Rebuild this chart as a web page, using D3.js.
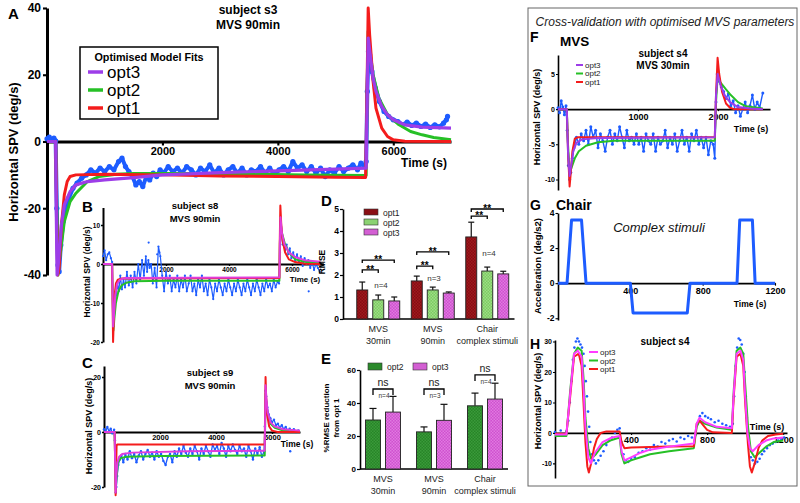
<!DOCTYPE html>
<html><head><meta charset="utf-8">
<script src="https://cdn.jsdelivr.net/npm/d3@7"></script>
<style>body{margin:0;background:#fff}svg{display:block}</style>
</head><body>
<svg id="chart" width="800" height="503"></svg>
<script>
// ---------------- DATA ----------------
const aXTicks=[2000,4000,6000], aYTicks=[-40,-20,0,20,40];
const bXTicks=[2000,4000,6000], bYTicks=[-20,-10,0,10];
const cXTicks=[2000,4000,6000], cYTicks=[-20,0,20];
const dYTicks=[0,1,2,3,4,5], eYTicks=[0,20,40,60];
const fXTicks=[1000,2000], fYTicks=[-10,-5,0,5];
const gXTicks=[400,800,1200], gYTicks=[-2,0,2,4];
const hXTicks=[400,800,1200], hYTicks=[-10,0,10,20,30];
const fitNames=['opt3','opt2','opt1'];

// Panel A (subject s3, MVS 90min)
const aBlue=[[0,0.8],[40,1.3],[80,0.4],[120,1.0],[150,0.2],[170,-20],[190,-37],[210,-39],[240,-31],[280,-24],[330,-20],[380,-17],[450,-14],[520,-12.5],[600,-11],[680,-10],[760,-8.5],[840,-9.5],[920,-8],[1000,-9],[1080,-7.5],[1160,-8.5],[1240,-6],[1300,-5],[1360,-7.5],[1420,-9],[1480,-10.5],[1540,-13],[1600,-12],[1660,-13.5],[1720,-10.5],[1780,-11.5],[1840,-9.5],[1900,-10.5],[1960,-8.5],[2020,-9.5],[2100,-7.5],[2180,-9],[2260,-8],[2340,-9.5],[2420,-7.5],[2500,-8.5],[2580,-10],[2660,-8],[2740,-9],[2820,-7],[2900,-9.5],[2980,-8],[3060,-10],[3140,-8.5],[3220,-7.5],[3300,-9.5],[3380,-8],[3460,-10],[3540,-8.5],[3620,-9],[3700,-7.5],[3780,-9.5],[3860,-8],[3940,-10],[4020,-8.5],[4100,-7.5],[4180,-9],[4260,-6],[4340,-8],[4420,-7],[4500,-9],[4580,-7.5],[4660,-9.5],[4740,-8],[4820,-10.5],[4900,-8.5],[4980,-9.5],[5060,-7.5],[5140,-9],[5220,-8],[5300,-7],[5380,-8.5],[5440,-6.5],[5500,-7.5],[5530,-6],[5550,15],[5570,27],[5590,26],[5630,21],[5690,16],[5760,12],[5840,9],[5920,7.5],[6000,6.5],[6080,6],[6160,5],[6240,5.8],[6320,4.8],[6400,5.5],[6480,4.5],[6560,5.2],[6640,4.2],[6720,5],[6800,4.4],[6870,5.5],[6920,6.5],[6940,7.5]];
const aRed=[[0,0],[150,0],[165,-20],[185,-40],[210,-38],[250,-25],[300,-16],[350,-12],[400,-10.5],[500,-10],[1000,-9.8],[2000,-10],[3000,-10.3],[4000,-10.5],[5000,-10.7],[5520,-10.8],[5540,10],[5565,40],[5590,32],[5650,18],[5700,10],[5800,4],[5900,1.5],[6000,0.5],[6200,0.1],[7000,0]];
const aGreen=[[0,0],[150,0],[170,-20],[190,-40],[220,-35],[300,-24],[400,-18],[500,-15.5],[700,-12],[900,-10.5],[1200,-9.8],[1500,-9.6],[2500,-9.6],[3500,-9.8],[4500,-10],[5530,-10.2],[5545,10],[5565,33],[5590,28],[5650,20],[5750,13],[5900,8],[6100,5],[6300,3],[6500,2],[6700,1.2],[7000,0.5]];
const aPurple=[[0,0],[150,0],[160,-20],[175,-40],[200,-36],[250,-25],[300,-19],[400,-15],[500,-13],[700,-12],[1000,-11.5],[1500,-10.8],[2000,-10],[3000,-9.3],[4000,-8.8],[5000,-8.3],[5530,-8],[5545,10],[5565,31],[5600,26],[5650,19],[5700,15],[5800,10.5],[5900,8],[6000,6.5],[6200,5],[6500,4.3],[7000,4]];

// Panel B (subject s8, MVS 90min)
const bBlue=[[0,2],[50,3.5],[100,1],[150,2.5],[200,3],[250,1.5],[290,0.5],[310,-9],[330,-16],[350,-15],[380,-11],[420,-8],[460,-5],[500,-7],[550,-3],[600,-6.5],[650,-4],[700,-6],[760,-2],[820,-5.5],[880,-3],[940,-6],[1000,-2],[1060,-5],[1120,0],[1180,-4],[1240,1],[1300,-3],[1360,2],[1400,-2],[1440,1],[1480,-1],[1530,0],[1580,-5],[1640,-1],[1700,-6],[1760,4.5],[1820,2],[1880,-3],[1940,-7],[2000,-2],[2060,-5],[2120,-3],[2180,-7],[2240,-4],[2300,-6],[2360,-3],[2420,-7],[2480,-4],[2540,-6],[2600,-3],[2660,-7],[2720,-5],[2780,-3],[2840,-7],[2900,-5],[2960,-8],[3020,-4],[3080,-6],[3140,-3],[3200,-7],[3260,-5],[3320,-8],[3380,-4],[3440,-6],[3500,-9],[3560,-5],[3620,-7],[3680,-4],[3740,-6],[3800,-8],[3860,-5],[3920,-7],[3980,-4],[4040,-6],[4100,-8],[4160,-5],[4220,-7],[4280,-4],[4340,-6],[4400,-8],[4460,-5],[4520,-7],[4580,-4],[4640,-6],[4700,-8],[4760,-5],[4820,-7],[4880,-4],[4940,-6],[5000,-8],[5060,-5],[5120,-7],[5180,-4],[5240,-6],[5300,-5],[5360,-7],[5420,-4],[5480,-6],[5540,-4.5],[5590,-5],[5620,3],[5640,9],[5670,8],[5700,5],[5740,6],[5780,3.5],[5830,5],[5880,2.5],[5930,4],[5980,1.5],[6040,3],[6100,1],[6160,2.5],[6220,0.5],[6280,2],[6340,-0.5],[6400,1.5],[6460,0],[6520,1],[6580,-1],[6640,0.5],[6700,-1.5],[6760,0],[6820,-1],[6880,-2]];
const bOutliers=[[6530,-7],[1450,5.5],[1790,3],[1720,2.5]];
const bRed=[[0,0],[290,0],[305,-10],[320,-20],[340,-15],[370,-8],[410,-5],[470,-4],[600,-3.7],[5600,-3.6],[5610,5],[5630,15],[5660,10],[5700,6],[5780,3],[5900,1.2],[6100,0.5],[6400,0.1],[6900,0]];
const bGreen=[[0,0],[290,0],[310,-10],[330,-17],[360,-14],[410,-10],[490,-7],[590,-5.5],[740,-4.8],[990,-4.4],[2000,-4.3],[5600,-4.3],[5615,5],[5635,11],[5680,8],[5780,5],[5900,3],[6100,1.2],[6400,0.6],[6900,0.3]];
const bPurple=[[0,0],[290,0],[305,-8],[320,-16],[350,-13],[390,-8],[450,-5],[540,-4],[690,-3.6],[5600,-3.4],[5615,5],[5635,12],[5680,8],[5760,5],[5900,3],[6100,1.8],[6400,1],[6900,0.6]];

// Panel C (subject s9, MVS 90min)
const cBlue=[[0,1],[60,0.3],[120,1.8],[180,0.2],[240,1.2],[300,-0.5],[360,0.8],[390,-3],[405,-14],[420,-22],[440,-20],[470,-16],[510,-12],[560,-10],[620,-8.5],[690,-11],[760,-8],[840,-10],[920,-7],[1000,-9.5],[1080,-8],[1160,-11],[1240,-8.5],[1320,-7],[1400,-10],[1480,-8],[1560,-6.5],[1640,-9],[1720,-7.5],[1800,-10],[1880,-7],[1960,-9],[2040,-8],[2120,-10.5],[2200,-12],[2280,-9],[2360,-8],[2440,-11],[2520,-7],[2600,-9],[2680,-6],[2760,-8],[2840,-5],[2920,-7.5],[3000,-9],[3080,-6],[3160,-8],[3240,-5],[3320,-7],[3400,-10],[3480,-6],[3560,-8],[3640,-5],[3720,-7],[3800,-9],[3880,-4.5],[3960,-6.5],[4040,-5],[4120,-8],[4200,-4],[4280,-6],[4360,-9],[4440,-5],[4520,-7],[4600,-4.5],[4680,-6.5],[4760,-8],[4840,-5],[4920,-7],[5000,-6],[5080,-9],[5160,-5],[5240,-7],[5320,-10],[5400,-6],[5480,-8],[5560,-5.5],[5640,-9],[5720,-7],[5745,2],[5765,15],[5790,13],[5830,9],[5880,6.5],[5940,5],[6000,3.5],[6070,4.5],[6140,2.5],[6210,3],[6280,1.5],[6350,2.5],[6420,1],[6490,1.8],[6560,0.5],[6630,1.2],[6700,0.3],[6780,1],[6860,0],[6940,0.6]];
const cOutliers=[[6650,-7]];
const cRed=[[0,0],[380,0],[400,-12],[415,-23],[430,-14],[450,-5],[470,-4.5],[5740,-4.5],[5755,8],[5770,20],[5790,13],[5830,6],[5900,2],[6000,0.5],[6200,0],[7000,0]];
const cGreen=[[0,0],[380,0],[400,-12],[418,-21],[445,-17],[500,-11],[600,-9.5],[800,-9],[2000,-8.7],[5740,-8.5],[5755,2],[5770,14],[5800,10],[5850,6],[5950,3],[6100,1.5],[6400,0.5],[7000,0]];
const cPurple=[[0,0],[380,0],[400,-12],[415,-22],[440,-16],[480,-11],[540,-9],[650,-8],[1000,-7.5],[3000,-7],[5740,-6.8],[5755,5],[5770,17],[5800,12],[5850,7],[5950,3.5],[6100,2],[6400,1],[7000,0.5]];

// Panel D (RMSE)
const dGroups=['MVS|30min','MVS|90min','Chair|complex stimuli'];
const dSeries=['opt1','opt2','opt3'];
const dOpt1=[1.32,1.73,3.73], dOpt1Err=[1.68,1.95,4.4];
const dOpt2=[0.87,1.32,2.18], dOpt2Err=[1.09,1.45,2.36];
const dOpt3=[0.82,1.18,2.05], dOpt3Err=[1.0,1.23,2.17];
const dSigInner=[2.23,2.4,4.68], dSigOuter=[2.68,3.05,5.0];
const dN=['n=4','n=3','n=4'];
const dNy=[1.4,1.75,2.85];

// Panel E (% RMSE reduction)
const eSeries=['opt2','opt3'];
const eOpt2=[29.7,22.5,38.3], eOpt2Err=[36.7,25.5,46];
const eOpt3=[34.5,29.5,42.4], eOpt3Err=[44,39.2,52];
const eSig=[48.5,48.5,57];
const eN=['n=4','n=3','n=4'];

// Panel F (subject s4, MVS 30min)
const fBlue=[[0,0.2],[20,-0.5],[40,1.2],[60,0.3],[80,-0.8],[100,0.5],[115,-3],[130,-8],[145,-10],[160,-9],[180,-7],[200,-5.5],[230,-4],[260,-5],[290,-3.5],[320,-4.5],[350,-3],[380,-5],[410,-2.5],[440,-4],[470,-3],[500,-5.5],[530,-3.5],[560,-4.5],[590,-6],[620,-4],[650,-3],[680,-5],[710,-3.5],[740,-4.5],[770,-2.5],[800,-4],[830,-5.5],[860,-3],[890,-4.5],[920,-4],[950,-5],[980,-3.5],[1010,-5],[1040,-4],[1070,-6],[1100,-3.5],[1130,-4.5],[1160,-5],[1190,-3.5],[1220,-6],[1250,-4],[1280,-5],[1310,-4.5],[1340,-3],[1370,-5.5],[1400,-4],[1430,-5],[1460,-3.5],[1490,-6],[1520,-4.5],[1550,-3],[1580,-5],[1610,-4],[1640,-6],[1670,-3.5],[1700,-4.5],[1730,-3],[1760,-5],[1790,-4],[1820,-5.5],[1850,-4],[1880,-6.5],[1910,-4.5],[1940,-5],[1960,-7],[1975,1],[1990,5],[2010,4],[2040,3.2],[2070,2.5],[2100,1.5],[2130,2.2],[2160,0.5],[2190,1.2],[2220,-0.5],[2250,0.5],[2280,-1],[2310,0],[2340,1],[2370,-0.5],[2400,0.5],[2430,2],[2460,0],[2490,1],[2520,0.2],[2560,2.3]];
const fRed=[[0,0],[110,0],[125,-6],[145,-11],[160,-9],[180,-6],[210,-4.2],[250,-4],[1960,-4],[1975,2],[1995,7.3],[2015,5],[2050,2.5],[2100,0.8],[2150,0.2],[2200,0],[2560,0]];
const fGreen=[[0,0],[110,0],[125,-5],[145,-9],[170,-8.3],[210,-7],[260,-6],[350,-5.2],[500,-4.7],[700,-4.5],[1000,-4.5],[1960,-4.5],[1975,1],[1995,4.5],[2030,3.8],[2100,2.8],[2160,2],[2250,1],[2350,0.4],[2560,0.1]];
const fPurple=[[0,0],[110,0],[125,-6],[145,-9.5],[165,-8],[190,-6],[230,-4.8],[300,-4.3],[500,-4.1],[1960,-4],[1975,2],[1995,5],[2030,3.5],[2080,2],[2150,1],[2250,0.3],[2400,0.1],[2560,0]];

// Panel G (chair acceleration, complex stimuli)
const gStim=[[0,0],[50,0],[75,3.6],[130,3.6],[155,0],[400,0],[415,-1.7],[715,-1.7],[730,0],[990,0],[1005,3.6],[1075,3.6],[1090,0],[1200,0]];

// Panel H (subject s4, chair response)
const hBlue=[[0,0.3],[15,-0.5],[30,0.8],[45,-0.3],[60,0.5],[70,4],[78,10],[86,17],[94,24],[102,28],[110,30],[118,31],[126,30],[134,29],[142,28],[150,26],[156,22],[162,17],[168,12],[174,7],[180,2],[186,-3],[194,-7],[205,-9],[215,-10],[228,-9],[240,-7.5],[255,-6],[270,-4],[285,-2.5],[300,-1.5],[315,0],[328,1],[340,1.5],[350,-3],[360,-7],[372,-9],[385,-9.5],[400,-8.5],[420,-8],[440,-6.5],[460,-6],[480,-5],[500,-5.5],[520,-4],[540,-4.5],[560,-3],[580,-3.5],[600,-2.5],[620,-2],[640,-2.8],[660,-1.5],[680,-2],[700,-1],[720,-1.5],[740,-0.5],[750,3],[762,5.5],[775,6.5],[790,5.5],[805,5],[820,4.5],[840,3.5],[860,4],[880,3],[900,2.5],[920,2],[935,3],[942,12],[950,22],[958,28],[966,31],[974,30.5],[982,29],[990,26],[997,20],[1003,12],[1009,5],[1015,-1],[1022,-5],[1030,-8],[1040,-9],[1052,-10],[1064,-9.5],[1076,-8.5],[1088,-7],[1100,-6],[1115,-5],[1130,-4],[1145,-3.5],[1160,-3],[1175,-2.5],[1190,-2],[1205,-1.5]];
const hRed=[[0,-0.3],[60,-0.3],[80,12],[100,25],[125,26],[140,22],[150,10],[160,-3],[170,-11],[178,-13],[190,-10],[205,-5],[220,-2],[240,0],[270,0.5],[340,0.5],[350,-3],[365,-5],[400,-4.8],[500,-4.6],[600,-4.5],[730,-4.4],[745,3],[760,4],[780,2.5],[800,1],[830,0.2],[930,0],[940,12],[955,25],[975,26],[990,22],[1000,10],[1015,-4],[1025,-11],[1035,-13],[1050,-10],[1070,-5],[1090,-2.5],[1120,-1],[1160,-0.5],[1200,-0.3]];
const hGreen=[[0,-1],[60,-1],[80,14],[100,26],[120,28],[140,27],[150,18],[160,5],[175,-5],[190,-8.5],[215,-7],[250,-4],[290,-2.5],[340,-1.5],[350,-7],[365,-10],[400,-9],[450,-8],[500,-7],[600,-6],[730,-5],[745,2],[760,4],[790,3],[850,1.8],[930,1],[940,14],[955,27],[975,28],[990,26],[1000,16],[1015,2],[1030,-6],[1050,-8],[1075,-6.5],[1110,-4.5],[1150,-3],[1200,-2.5]];
const hPurple=[[0,-0.5],[60,-0.5],[80,13],[100,26],[120,27],[140,25],[150,15],[160,2],[175,-8],[188,-10],[210,-6.5],[250,-3],[300,-1.5],[340,-1],[350,-6],[365,-9],[400,-8],[450,-6.5],[500,-5.5],[600,-4.5],[730,-3.5],[745,3],[760,5],[790,3.5],[850,2],[930,1.5],[940,13],[955,26],[975,27],[990,24],[1000,12],[1012,0],[1025,-5],[1040,-6],[1070,-4],[1110,-2.5],[1150,-1.8],[1200,-1.5]];

// ---------------- DRAWING ----------------
const svg=d3.select('#chart');
const FONT='"Liberation Sans", Arial, Helvetica, sans-serif';
const COL={blue:'#1d5cff',red:'#f41c1c',green:'#26c026',purple:'#9d3de8',magenta:'#e03ddc',pink:'#ff3cff'};

function txt(x,y,s,o={}){
  return svg.append('text').attr('x',x).attr('y',y).text(s)
    .attr('font-family',FONT).attr('font-size',o.fs||10)
    .attr('font-weight',o.fw||'normal').attr('font-style',o.fst||'normal')
    .attr('text-anchor',o.anchor||'start').attr('fill',o.fill||'#000')
    .attr('transform',o.rot?`rotate(-90,${x},${y})`:null);
}
function axes(x,y,o){
  const g=svg.append('g');
  const fmt=d=>String(d);
  const xa=d3.axisBottom(x).tickValues(o.xt).tickSize(o.ts).tickSizeOuter(0).tickPadding(o.xp).tickFormat(fmt);
  const ya=d3.axisLeft(y).tickValues(o.yt).tickSize(o.ts).tickSizeOuter(0).tickPadding(o.yp).tickFormat(fmt);
  const xg=g.append('g').attr('transform',`translate(0,${y(0)})`).call(xa);
  const yg=g.append('g').attr('transform',`translate(${x(x.domain()[0])},0)`).call(ya);
  [[xg,o.xfs],[yg,o.yfs]].forEach(([s,fs])=>{
    s.select('.domain').attr('stroke','#000').attr('stroke-width',o.sw);
    s.selectAll('.tick line').attr('stroke','#000').attr('stroke-width',Math.max(1,o.sw*0.7));
    s.selectAll('.tick text').attr('font-size',fs).attr('font-weight','bold').attr('font-family',FONT).attr('fill','#000');
  });
  return g;
}
function series(x,y,data,color,w){
  svg.append('path').datum(data).attr('fill','none').attr('stroke',color).attr('stroke-width',w)
    .attr('stroke-linejoin','round').attr('d',d3.line().x(d=>x(d[0])).y(d=>y(d[1])));
}
function dots(x,y,data,r,lw){
  if(lw>0) series(x,y,data,COL.blue,lw);
  svg.append('g').selectAll('circle').data(data).join('circle')
    .attr('cx',d=>x(d[0])).attr('cy',d=>y(d[1])).attr('r',r).attr('fill',COL.blue);
}

// ---- Panel A ----
const xA=d3.scaleLinear([0,7000],[47,451]);
const yA=d3.scaleLinear([-40,40],[275,8]);
axes(xA,yA,{xt:aXTicks,yt:aYTicks,ts:4,xp:2,yp:2,sw:3,xfs:11,yfs:12});
dots(xA,yA,aBlue,2.6,4);
series(xA,yA,aGreen,COL.green,3);
series(xA,yA,aRed,COL.red,3);
series(xA,yA,aPurple,COL.purple,3.2);
txt(8,19,'A',{fs:15,fw:'bold'});
txt(248,14,'subject s3',{fs:12,fw:'bold',anchor:'middle'});
txt(248,29,'MVS 90min',{fs:12,fw:'bold',anchor:'middle'});
txt(424,167,'Time (s)',{fs:12,fw:'bold',anchor:'middle'});
txt(18,152,'Horizontal SPV (deg/s)',{fs:13,fw:'bold',anchor:'middle',rot:true});
// legend A
svg.append('rect').attr('x',80).attr('y',47).attr('width',138).attr('height',72).attr('fill','#fff').attr('stroke','#000').attr('stroke-width',1.5);
txt(149,61,'Optimised Model Fits',{fs:10.8,fw:'bold',anchor:'middle'});
const aLegCol=[COL.purple,COL.green,COL.red];
fitNames.forEach((n,i)=>{
  const yy=72+i*18;
  svg.append('line').attr('x1',88).attr('x2',103).attr('y1',yy).attr('y2',yy).attr('stroke',aLegCol[i]).attr('stroke-width',3.5);
  txt(107,yy+6,n,{fs:17});
});

// ---- Panel B ----
const xB=d3.scaleLinear([0,7000],[103,323.5]);
const yB=d3.scaleLinear([-20,14.5],[342,207.5]);
axes(xB,yB,{xt:bXTicks,yt:bYTicks,ts:2,xp:1,yp:1,sw:2,xfs:6.5,yfs:6.5});
dots(xB,yB,bBlue,1.1,1.2);
dots(xB,yB,bOutliers,1.1,0);
series(xB,yB,bGreen,COL.green,2);
series(xB,yB,bRed,COL.red,2);
series(xB,yB,bPurple,COL.magenta,2);
txt(82,212,'B',{fs:15,fw:'bold'});
txt(195,209,'subject s8',{fs:9.5,fw:'bold',anchor:'middle'});
txt(195,222,'MVS 90min',{fs:9.5,fw:'bold',anchor:'middle'});
txt(305,282,'Time (s)',{fs:8,fw:'bold',anchor:'middle'});
txt(90,272,'Horizontal SPV (deg/s)',{fs:8.5,fw:'bold',anchor:'middle',rot:true});

// ---- Panel C ----
const xC=d3.scaleLinear([0,7000],[104,300]);
const yC=d3.scaleLinear([-20,24],[487,366]);
axes(xC,yC,{xt:cXTicks,yt:cYTicks,ts:2,xp:1,yp:1,sw:2,xfs:7.5,yfs:7});
dots(xC,yC,cBlue,1.2,1.3);
dots(xC,yC,cOutliers,1.2,0);
series(xC,yC,cGreen,COL.green,2);
series(xC,yC,cRed,COL.red,2);
series(xC,yC,cPurple,COL.magenta,2);
txt(82,368,'C',{fs:15,fw:'bold'});
txt(210,376,'subject s9',{fs:9.5,fw:'bold',anchor:'middle'});
txt(210,389,'MVS 90min',{fs:9.5,fw:'bold',anchor:'middle'});
txt(297,447,'Time (s)',{fs:8.5,fw:'bold',anchor:'middle'});
txt(92,426,'Horizontal SPV (deg/s)',{fs:9,fw:'bold',anchor:'middle',rot:true});

// ---- patterns for bars ----
const defs=svg.append('defs');
function pat(id,base,dot){
  const p=defs.append('pattern').attr('id',id).attr('width',3).attr('height',3).attr('patternUnits','userSpaceOnUse');
  p.append('rect').attr('width',3).attr('height',3).attr('fill',base);
  p.append('rect').attr('width',1.5).attr('height',1.5).attr('fill',dot);
  p.append('rect').attr('x',1.5).attr('y',1.5).attr('width',1.5).attr('height',1.5).attr('fill',dot);
}
pat('p1','#870c12','#9e1a1e');
pat('p2','#7ccc62','#9edc86');
pat('p3','#cf50cf','#e07ae0');
pat('p4','#278527','#3a9a3a');
const dFill={opt1:'url(#p1)',opt2:'url(#p2)',opt3:'url(#p3)'};
const dLegFill={opt1:'#8a0e14',opt2:'#8bd272',opt3:'#d35fd3'};
const eFill={opt2:'url(#p4)',opt3:'url(#p3)'};
const eLegFill={opt2:'#2b8a2b',opt3:'#d35fd3'};

function bracket(x1,x2,y,drop){
  svg.append('path').attr('fill','none').attr('stroke','#000').attr('stroke-width',1.3)
    .attr('d',`M${x1},${y+drop}V${y}H${x2}V${y+drop}`);
}
function groupLabels(xs,groups,y1,y2){
  groups.forEach(g=>{const [a,b]=g.split('|');const cx=xs(g)+xs.bandwidth()/2;
    txt(cx,y1,a,{fs:9,anchor:'middle',fill:'#222'});txt(cx,y2,b,{fs:9,anchor:'middle',fill:'#222'});});
}

// ---- Panel D ----
const yD=d3.scaleLinear([0,5],[319,209]);
const xD=d3.scaleBand(dGroups,[351,514.5]);
const xDi=d3.scaleBand(dSeries,[-24,24]).paddingInner(0.3125).paddingOuter(0.15625);
const dVals={opt1:[dOpt1,dOpt1Err],opt2:[dOpt2,dOpt2Err],opt3:[dOpt3,dOpt3Err]};
{
  const ya=d3.axisLeft(yD).tickValues(dYTicks).tickSize(3).tickSizeOuter(0).tickPadding(1).tickFormat(d=>String(d));
  const g=svg.append('g').attr('transform','translate(343,0)').call(ya);
  g.select('.domain').attr('stroke','#000').attr('stroke-width',1.6);
  g.selectAll('.tick line').attr('stroke','#000').attr('stroke-width',1.2);
  g.selectAll('.tick text').attr('font-size',8.5).attr('font-weight','bold').attr('font-family',FONT);
  svg.append('line').attr('x1',343).attr('x2',xD.range()[1]).attr('y1',yD(0)).attr('y2',yD(0)).attr('stroke','#000').attr('stroke-width',1.6);
  dSeries.forEach(s=>{
    const [m,e]=dVals[s];
    dGroups.forEach((gname,i)=>{
      const cx=xD(gname)+xD.bandwidth()/2+xDi(s)+xDi.bandwidth()/2;
      svg.append('line').attr('x1',cx).attr('x2',cx).attr('y1',yD(m[i])).attr('y2',yD(e[i])).attr('stroke','#111').attr('stroke-width',1.2);
      svg.append('line').attr('x1',cx-3).attr('x2',cx+3).attr('y1',yD(e[i])).attr('y2',yD(e[i])).attr('stroke','#111').attr('stroke-width',1.2);
      svg.append('rect').attr('x',cx-xDi.bandwidth()/2).attr('y',yD(m[i])).attr('width',xDi.bandwidth()).attr('height',yD(0)-yD(m[i]))
        .attr('fill',dFill[s]).attr('stroke','#222').attr('stroke-width',0.9);
    });
  });
  dGroups.forEach((gname,i)=>{
    const c=k=>xD(gname)+xD.bandwidth()/2+xDi(dSeries[k])+xDi.bandwidth()/2;
    bracket(c(0),c(1),yD(dSigInner[i]),3);
    bracket(c(0),c(2),yD(dSigOuter[i]),3);
    txt((c(0)+c(1))/2,yD(dSigInner[i])+3,'**',{fs:10,fw:'bold',anchor:'middle'});
    txt((c(0)+c(2))/2,yD(dSigOuter[i])+3,'**',{fs:10,fw:'bold',anchor:'middle'});
  });
  txt(381,yD(dNy[0]),dN[0],{fs:8,anchor:'middle',fill:'#333'});
  txt(434,yD(dNy[1]),dN[1],{fs:8,anchor:'middle',fill:'#333'});
  txt(489,yD(dNy[2]),dN[2],{fs:8,anchor:'middle',fill:'#333'});
  groupLabels(xD,dGroups,332,344);
  dSeries.forEach((s,i)=>{
    svg.append('rect').attr('x',364).attr('y',209+i*10).attr('width',14).attr('height',6).attr('fill',dLegFill[s]).attr('stroke','#333').attr('stroke-width',0.6);
    txt(383,215.5+i*10,s,{fs:8.5,fill:'#222'});
  });
  txt(321,206,'D',{fs:15,fw:'bold'});
  txt(325,262,'RMSE',{fs:8.5,fw:'bold',anchor:'middle',rot:true});
}

// ---- Panel E ----
const yE=d3.scaleLinear([0,60],[469,370]);
const xE=d3.scaleBand(dGroups,[357.5,510.5]);
const xEi=d3.scaleBand(eSeries,[-20,20]).paddingInner(0.25).paddingOuter(0.125);
const eVals={opt2:[eOpt2,eOpt2Err],opt3:[eOpt3,eOpt3Err]};
{
  const ya=d3.axisLeft(yE).tickValues(eYTicks).tickSize(3).tickSizeOuter(0).tickPadding(1).tickFormat(d=>String(d));
  const g=svg.append('g').attr('transform','translate(360,0)').call(ya);
  g.select('.domain').attr('stroke','#000').attr('stroke-width',1.6);
  g.selectAll('.tick line').attr('stroke','#000').attr('stroke-width',1.2);
  g.selectAll('.tick text').attr('font-size',8).attr('font-weight','bold').attr('font-family',FONT);
  svg.append('line').attr('x1',360).attr('x2',508).attr('y1',yE(0)).attr('y2',yE(0)).attr('stroke','#000').attr('stroke-width',1.6);
  eSeries.forEach(s=>{
    const [m,e]=eVals[s];
    dGroups.forEach((gname,i)=>{
      const cx=xE(gname)+xE.bandwidth()/2+xEi(s)+xEi.bandwidth()/2;
      svg.append('line').attr('x1',cx).attr('x2',cx).attr('y1',yE(m[i])).attr('y2',yE(e[i])).attr('stroke','#111').attr('stroke-width',1.2);
      svg.append('line').attr('x1',cx-3.5).attr('x2',cx+3.5).attr('y1',yE(e[i])).attr('y2',yE(e[i])).attr('stroke','#111').attr('stroke-width',1.2);
      svg.append('rect').attr('x',cx-xEi.bandwidth()/2).attr('y',yE(m[i])).attr('width',xEi.bandwidth()).attr('height',yE(0)-yE(m[i]))
        .attr('fill',eFill[s]).attr('stroke','#222').attr('stroke-width',0.9);
    });
  });
  dGroups.forEach((gname,i)=>{
    const c=k=>xE(gname)+xE.bandwidth()/2+xEi(eSeries[k])+xEi.bandwidth()/2;
    bracket(c(0),c(1),yE(eSig[i]),6);
    txt((c(0)+c(1))/2,yE(eSig[i])-3,'ns',{fs:10.5,anchor:'middle',fill:'#222'});
    txt((c(0)+c(1))/2+1,yE(eSig[i])+9,eN[i],{fs:6.5,anchor:'middle',fill:'#333'});
  });
  groupLabels(xE,dGroups,482,494);
  eSeries.forEach((s,i)=>{
    svg.append('rect').attr('x',368+i*45).attr('y',363).attr('width',14).attr('height',7).attr('fill',eLegFill[s]).attr('stroke','#333').attr('stroke-width',0.6);
    txt(387+i*45,370,s,{fs:8.5,fill:'#222'});
  });
  txt(321,364,'E',{fs:15,fw:'bold'});
  txt(329,418,'%RMSE reduction',{fs:8,fw:'bold',anchor:'middle',rot:true});
  txt(339,418,'from opt 1',{fs:8,fw:'bold',anchor:'middle',rot:true});
}

// ---- Right panel frame ----
svg.append('rect').attr('x',528).attr('y',8).attr('width',269).attr('height',478).attr('fill','none').attr('stroke','#666').attr('stroke-width',1);
txt(665,26,'Cross-validation with optimised MVS parameters',{fs:12,fst:'italic',anchor:'middle',fill:'#222'});

// ---- Panel F ----
const xF=d3.scaleLinear([0,2650],[558,770]);
const yF=d3.scaleLinear([-11.5,7.7],[190,55]);
axes(xF,yF,{xt:fXTicks,yt:fYTicks,ts:2,xp:2,yp:1,sw:1.6,xfs:9,yfs:7});
dots(xF,yF,fBlue,1.5,1.4);
series(xF,yF,fGreen,COL.green,2);
series(xF,yF,fRed,COL.red,2);
series(xF,yF,fPurple,COL.purple,2);
txt(530,42,'F',{fs:14,fw:'bold'});
txt(560,46,'MVS',{fs:13.5,fw:'bold'});
txt(663,57,'subject s4',{fs:10,fw:'bold',anchor:'middle'});
txt(663,69,'MVS 30min',{fs:10,fw:'bold',anchor:'middle'});
txt(751,132,'Time (s)',{fs:9,fw:'bold',anchor:'middle'});
txt(540,117,'Horizontal SPV (deg/s)',{fs:9,fw:'bold',anchor:'middle',rot:true});
const fLegCol=[COL.purple,COL.green,COL.red];
fitNames.forEach((n,i)=>{
  const yy=65+i*8.5;
  svg.append('line').attr('x1',576).attr('x2',583).attr('y1',yy).attr('y2',yy).attr('stroke',fLegCol[i]).attr('stroke-width',2);
  txt(585,yy+2.8,n,{fs:8,fill:'#222'});
});

// ---- Panel G ----
const xG=d3.scaleLinear([0,1200],[558,775]);
const yG=d3.scaleLinear([-2.1,4],[320,213]);
axes(xG,yG,{xt:gXTicks,yt:gYTicks,ts:2.5,xp:2,yp:1,sw:1.6,xfs:9,yfs:8.5});
series(xG,yG,gStim,COL.blue,3);
txt(530,210,'G',{fs:14,fw:'bold'});
txt(556,210,'Chair',{fs:14,fw:'bold'});
txt(659,232,'Complex stimuli',{fs:13,fst:'italic',anchor:'middle',fill:'#111'});
txt(750,307,'Time (s)',{fs:8.5,fw:'bold',anchor:'middle'});
txt(541,266,'Acceleration (deg/s2)',{fs:9.5,fw:'bold',anchor:'middle',rot:true});

// ---- Panel H ----
const xH=d3.scaleLinear([0,1220],[555,787]);
const yH=d3.scaleLinear([-14.8,30.5],[478,340]);
axes(xH,yH,{xt:hXTicks,yt:hYTicks,ts:2,xp:2,yp:1,sw:1.6,xfs:9,yfs:7});
dots(xH,yH,hBlue,1.3,0);
series(xH,yH,hGreen,COL.green,2);
series(xH,yH,hRed,COL.red,2);
series(xH,yH,hPurple,COL.pink,2);
txt(530,349,'H',{fs:14,fw:'bold'});
txt(665,345,'subject s4',{fs:10,fw:'bold',anchor:'middle'});
txt(767,430,'Time (s)',{fs:9,fw:'bold',anchor:'middle'});
txt(541,401,'Horizontal SPV (deg/s)',{fs:9,fw:'bold',anchor:'middle',rot:true});
const hLegCol=[COL.pink,COL.green,COL.red];
fitNames.forEach((n,i)=>{
  const yy=352+i*8.5;
  svg.append('line').attr('x1',589).attr('x2',598).attr('y1',yy).attr('y2',yy).attr('stroke',hLegCol[i]).attr('stroke-width',2);
  txt(600,yy+3,n,{fs:8,fill:'#222'});
});
</script>
</body></html>
